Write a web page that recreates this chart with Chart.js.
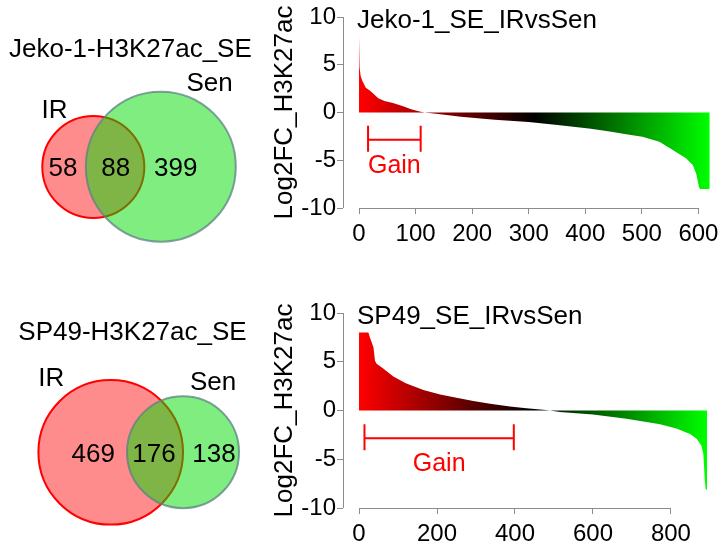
<!DOCTYPE html>
<html>
<head>
<meta charset="utf-8">
<script src="https://cdn.jsdelivr.net/npm/chart.js@4.4.1/dist/chart.umd.min.js"></script>
<style>
  body { margin: 0; background: #fff; }
  #fig { position: relative; width: 726px; height: 550px; }
  canvas { position: absolute; }
</style>
</head>
<body>
<div id="fig">
  <canvas id="vennJeko" width="260" height="275" style="left:0;top:0"></canvas>
  <canvas id="barJeko" width="466" height="250" style="left:260px;top:0"></canvas>
  <canvas id="vennSP49" width="260" height="275" style="left:0;top:275px"></canvas>
  <canvas id="barSP49" width="466" height="260" style="left:260px;top:290px"></canvas>
</div>
<script>
const FONT = "'Liberation Sans', Arial, Helvetica, sans-serif";
Chart.defaults.font.family = FONT;
Chart.defaults.color = '#000';
const AXIS = '#8c8c8c';

// venn counts: IR only, shared, Sen only
const setNames = ['IR', 'Sen'];
const jekoCounts = [58, 88, 399];
const sp49Counts = [469, 176, 138];

// ranked super-enhancers, log2FC (rank, value)
const jekoRank  = [0, 1, 1, 3, 6, 12, 19, 25, 34, 45, 60, 78, 92, 107, 116, 140, 180, 240, 300, 355, 410, 443, 475, 501, 531, 554, 578, 590, 596, 601, 603, 620];
const jekoLogFC = [8.0, 8.0, 4.7, 3.8, 3.3, 2.6, 2.3, 2.0, 1.5, 1.2, 1.0, 0.66, 0.35, 0.1, 0.0, -0.15, -0.45, -0.75, -1.0, -1.33, -1.7, -2.0, -2.3, -2.55, -3.05, -3.9, -4.8, -5.5, -6.4, -7.8, -8.0, -8.0];
const sp49Rank  = [0, 24, 28, 37, 41, 45, 62, 88, 120, 165, 208, 250, 293, 336, 387, 429, 472, 490, 515, 600, 686, 772, 814, 849, 866, 878, 883, 887, 889, 893];
const sp49LogFC = [8.0, 8.0, 7.5, 6.5, 5.1, 4.8, 4.3, 3.5, 2.8, 2.1, 1.65, 1.3, 0.98, 0.7, 0.42, 0.24, 0.08, 0.0, -0.15, -0.4, -0.85, -1.4, -1.85, -2.4, -2.9, -3.6, -4.4, -7.2, -8.1, -8.1];

const yTicks = [-10, -5, 0, 5, 10];
const jekoXTicks = [0, 100, 200, 300, 400, 500, 600];
const sp49XTicks = [0, 200, 400, 600, 800];

// "Gain" bracket, rank range
const jekoGain = [16, 109];
const sp49Gain = [14, 397];

// ---------- venn ----------
const vennText = {
  id: 'vennText',
  afterDatasetsDraw(chart, args, o) {
    const {ctx, scales: {x, y}} = chart;
    ctx.save();
    ctx.fillStyle = '#000';
    ctx.font = '26px ' + FONT;
    ctx.textAlign = 'left';
    ctx.fillText(o.title, x.getPixelForValue(o.titleAt[0]), y.getPixelForValue(o.titleAt[1]));
    o.names.forEach((s, i) => ctx.fillText(s, x.getPixelForValue(o.namesAt[i][0]), y.getPixelForValue(o.namesAt[i][1])));
    ctx.textAlign = 'center';
    o.counts.forEach((n, i) => ctx.fillText(String(n), x.getPixelForValue(o.countX[i]), y.getPixelForValue(o.countY)));
    ctx.restore();
  }
};

function venn(id, title, counts, L) {
  new Chart(document.getElementById(id), {
    type: 'bubble',
    data: {
      datasets: [
        { label: setNames[0], data: [{x: L.ir[0], y: L.ir[1], r: L.ir[2]}],
          backgroundColor: 'rgba(255,0,0,0.45)', borderColor: '#ff0000', borderWidth: 2, order: 2 },
        { label: setNames[1], data: [{x: L.sen[0], y: L.sen[1], r: L.sen[2]}],
          backgroundColor: 'rgba(0,220,0,0.5)', borderColor: 'rgba(90,130,130,0.75)', borderWidth: 2, order: 1 }
      ]
    },
    options: {
      responsive: false, animation: false, events: [],
      layout: { padding: 0, autoPadding: false },
      clip: false,
      scales: {
        x: { type: 'linear', display: false, min: L.box[0], max: L.box[1] },
        y: { type: 'linear', display: false, min: L.box[2], max: L.box[3], reverse: true }
      },
      plugins: {
        legend: { display: false }, tooltip: { enabled: false },
        vennText: { title, counts, names: setNames, titleAt: L.titleAt, namesAt: L.namesAt, countX: L.countX, countY: L.countY }
      }
    },
    plugins: [vennText]
  });
}

venn('vennJeko', 'Jeko-1-H3K27ac_SE', jekoCounts, {
  box: [0, 260, 0, 275],
  ir: [93.3, 167, 51], sen: [160.8, 166.7, 75],
  titleAt: [9, 56.7], namesAt: [[41.5, 118.3], [186.5, 90.7]],
  countX: [63, 115.8, 175.7], countY: 176
});
venn('vennSP49', 'SP49-H3K27ac_SE', sp49Counts, {
  box: [0, 260, 275, 550],
  ir: [110.7, 452.3, 72.3], sen: [183, 452.2, 56],
  titleAt: [18.3, 340], namesAt: [[38.3, 386], [190, 390]],
  countX: [93.3, 154, 214], countY: 461.7
});

// ---------- waterfalls ----------
const waterfallDecor = {
  id: 'waterfallDecor',
  afterDraw(chart, args, o) {
    const {ctx, chartArea, scales: {x, y}} = chart;
    ctx.save();
    // R style axis lines, first to last tick
    ctx.strokeStyle = AXIS; ctx.lineWidth = 1;
    ctx.beginPath();
    const ax = Math.round(chartArea.left) + 0.5;
    ctx.moveTo(ax, y.getPixelForValue(yTicks[yTicks.length - 1]));
    ctx.lineTo(ax, y.getPixelForValue(yTicks[0]));
    const ay = Math.round(chartArea.bottom) + 0.5;
    ctx.moveTo(x.getPixelForValue(o.xTicks[0]), ay);
    ctx.lineTo(x.getPixelForValue(o.xTicks[o.xTicks.length - 1]), ay);
    ctx.stroke();

    ctx.fillStyle = '#000';
    ctx.font = '26px ' + FONT;
    ctx.textAlign = 'left';
    ctx.fillText(o.title, chartArea.left + 14, chartArea.top + 11);

    // gain bracket
    const g0 = x.getPixelForValue(o.gain[0]), g1 = x.getPixelForValue(o.gain[1]);
    const gy = y.getPixelForValue(o.gainY);
    ctx.strokeStyle = '#ff0000'; ctx.lineWidth = 2;
    ctx.beginPath();
    ctx.moveTo(g0, gy); ctx.lineTo(g1, gy);
    ctx.moveTo(g0, gy - 14); ctx.lineTo(g0, gy + 12);
    ctx.moveTo(g1, gy - 14); ctx.lineTo(g1, gy + 12);
    ctx.stroke();
    ctx.fillStyle = '#ff0000';
    ctx.font = '25px ' + FONT;
    ctx.textAlign = 'center';
    ctx.fillText('Gain', (g0 + g1) / 2, gy + 33);
    ctx.restore();
  }
};

function rampFill(lastRank) {
  return c => {
    const chart = c.chart;
    if (!chart.chartArea) return '#ff0000';
    const x = chart.scales.x;
    const g = chart.ctx.createLinearGradient(x.getPixelForValue(0), 0, x.getPixelForValue(lastRank), 0);
    g.addColorStop(0, '#ff0000');
    g.addColorStop(0.5, '#000000');
    g.addColorStop(1, '#00ff00');
    return g;
  };
}

function waterfall(id, title, ranks, values, xTicks, xRange, gain, padTop) {
  const pts = ranks.map((r, i) => ({x: r, y: values[i]}));
  const tickGrid = { drawOnChartArea: false, drawTicks: true, tickLength: 6, color: AXIS, lineWidth: 1 };
  new Chart(document.getElementById(id), {
    type: 'line',
    data: {
      datasets: [{
        data: pts, fill: 'origin', tension: 0, pointRadius: 0,
        borderWidth: 0, borderColor: 'rgba(0,0,0,0)',
        backgroundColor: rampFill(ranks[ranks.length - 1])
      }]
    },
    options: {
      responsive: false, animation: false, events: [],
      layout: { padding: { top: padTop, right: 5, left: 0, bottom: 0 } },
      scales: {
        x: {
          type: 'linear', min: xRange[0], max: xRange[1],
          afterBuildTicks: s => { s.ticks = xTicks.map(v => ({value: v})); },
          afterFit: s => { s.height = 42; },
          border: { display: false },
          grid: tickGrid,
          ticks: { font: { size: 24 }, color: '#000', padding: 6, maxRotation: 0, autoSkip: false }
        },
        y: {
          type: 'linear', min: -10, max: 10,
          afterBuildTicks: s => { s.ticks = yTicks.map(v => ({value: v})); },
          afterFit: s => { s.width = 83; },
          border: { display: false },
          grid: tickGrid,
          ticks: { font: { size: 24 }, color: '#000', padding: 1, callback: v => String(v) },
          title: { display: true, text: 'Log2FC_H3K27ac', font: { size: 26 }, color: '#000', padding: { top: 9, bottom: 0 } }
        }
      },
      plugins: {
        legend: { display: false }, tooltip: { enabled: false },
        waterfallDecor: { title, gain, gainY: -2.85, xTicks }
      }
    },
    plugins: [waterfallDecor]
  });
}

waterfall('barJeko', 'Jeko-1_SE_IRvsSen', jekoRank, jekoLogFC, jekoXTicks, [-28.3, 639.9], jekoGain, 17);
waterfall('barSP49', 'SP49_SE_IRvsSen', sp49Rank, sp49LogFC, sp49XTicks, [-41.1, 928.4], sp49Gain, 23);
</script>
</body>
</html>
